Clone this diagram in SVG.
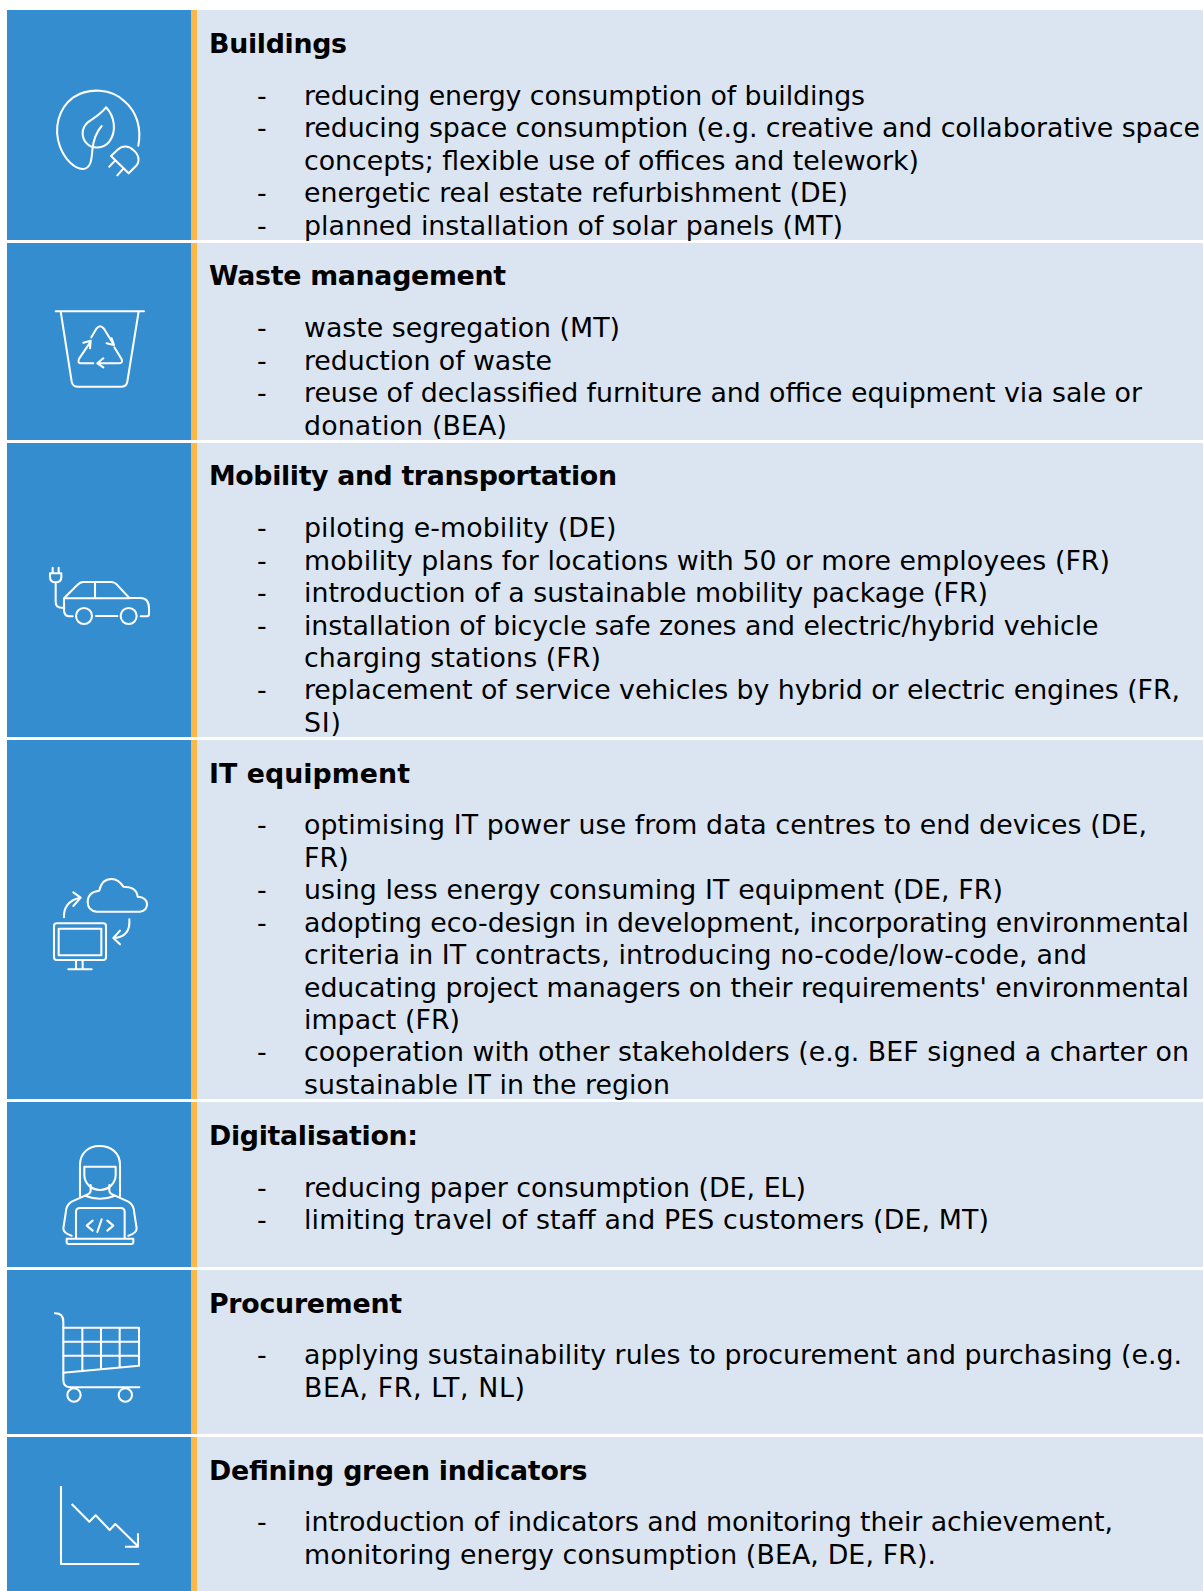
<svg xmlns="http://www.w3.org/2000/svg" width="1203" height="1591" viewBox="0 0 1203 1591">
<style>
.b{fill:#348dcf}.o{fill:#fdb947}.p{fill:#dbe5f1}
text{font-family:"DejaVu Sans","Liberation Sans",sans-serif;fill:#000;font-size:26.8px}
.h{font-weight:700}
.i{fill:none;stroke:#fff;stroke-width:6.2;stroke-linecap:round;stroke-linejoin:round}
</style>
<rect width="1203" height="1591" fill="#fff"/>
<g id="row-buildings">
<rect class="b" x="7" y="10" width="184" height="230"/><rect class="o" x="191" y="10" width="6" height="230"/><rect class="p" x="197" y="10" width="1006" height="230"/>
<g class="i" transform="scale(.33333)">
<path d="M415 437C425 385 410 335 375 305C335 265 265 262 220 292C175 325 160 385 180 440C195 480 225 507 248 507C272 507 275 480 277 450C280 420 290 395 305 378"/>
<path d="M318 322C300 345 275 358 262 368C245 385 243 410 258 428C275 448 310 448 328 425C350 395 345 350 318 322Z"/>
<path d="M333 468L352 450C365 437 385 435 400 450C418 465 420 485 408 498L386 520ZM345 482L328 500M370 506L352 526"/>
</g>
<text class="h" x="209" y="53" textLength="138">Buildings</text>
<text x="257" y="105">-</text><text x="304" y="105" textLength="561">reducing energy consumption of buildings</text>
<text x="257" y="137">-</text><text x="304" y="137" textLength="896">reducing space consumption (e.g. creative and collaborative space</text>
<text x="304" y="169.500" textLength="615">concepts; flexible use of offices and telework)</text>
<text x="257" y="202">-</text><text x="304" y="202" textLength="544">energetic real estate refurbishment (DE)</text>
<text x="257" y="234.500">-</text><text x="304" y="234.500" textLength="539">planned installation of solar panels (MT)</text>
</g>
<g id="row-waste">
<rect class="b" x="7" y="243" width="184" height="197"/><rect class="o" x="191" y="243" width="6" height="197"/><rect class="p" x="197" y="243" width="1006" height="197"/>
<g class="i" transform="scale(.33333)">
<path d="M167 934H432M182 934L215 1145Q218 1160 232 1160H365Q380 1160 382 1145L416 934"/>
<path d="M274 1012L290 985Q300 972 311 985L342 1035M335 1015L342 1035L320 1030"/>
<path d="M272 1025L238 1075Q230 1090 245 1090H280M250 1028L272 1022L270 1045"/>
<path d="M343 1042L365 1078Q370 1090 355 1090H292M310 1075L292 1090L310 1102"/>
</g>
<text class="h" x="209" y="285" textLength="297">Waste management</text>
<text x="257" y="337">-</text><text x="304" y="337" textLength="316">waste segregation (MT)</text>
<text x="257" y="369.500">-</text><text x="304" y="369.500" textLength="248">reduction of waste</text>
<text x="257" y="402">-</text><text x="304" y="402" textLength="838">reuse of declassified furniture and office equipment via sale or</text>
<text x="304" y="435" textLength="203">donation (BEA)</text>
</g>
<g id="row-mobility">
<rect class="b" x="7" y="443" width="184" height="294"/><rect class="o" x="191" y="443" width="6" height="294"/><rect class="p" x="197" y="443" width="1006" height="294"/>
<g class="i" transform="translate(0,540) scale(.33333)">
<path d="M158 83V100M176 83V100M150 100H184V110Q184 127 167 127Q150 127 150 110ZM167 127V185Q167 203 185 203H193"/>
<path d="M218 229H210Q192 229 192 210V175L232 135Q240 126 250 126H335Q342 126 350 133L388 174H420Q447 174 447 205V222Q447 229 440 229H422M192 175H388M285 126V175M288 228H352"/>
<circle cx="252" cy="228" r="24"/><circle cx="386" cy="228" r="24"/>
</g>
<text class="h" x="209" y="485" textLength="408">Mobility and transportation</text>
<text x="257" y="537">-</text><text x="304" y="537" textLength="312.500">piloting e-mobility (DE)</text>
<text x="257" y="570">-</text><text x="304" y="570" textLength="806">mobility plans for locations with 50 or more employees (FR)</text>
<text x="257" y="602">-</text><text x="304" y="602" textLength="684">introduction of a sustainable mobility package (FR)</text>
<text x="257" y="634.500">-</text><text x="304" y="634.500" textLength="794.500">installation of bicycle safe zones and electric/hybrid vehicle</text>
<text x="304" y="667" textLength="297">charging stations (FR)</text>
<text x="257" y="699">-</text><text x="304" y="699" textLength="876">replacement of service vehicles by hybrid or electric engines (FR,</text>
<text x="304" y="732" textLength="37">SI)</text>
</g>
<g id="row-it">
<rect class="b" x="7" y="740" width="184" height="359"/><rect class="o" x="191" y="740" width="6" height="359"/><rect class="p" x="197" y="740" width="1006" height="359"/>
<g class="i" transform="translate(0,540) scale(.33333)">
<path d="M290 1115H420Q441 1112 441 1092Q440 1072 413 1070Q410 1040 370 1040Q355 1017 335 1017Q305 1017 298 1052Q264 1055 263 1085Q263 1112 290 1115Z"/>
<path d="M192 1132Q190 1085 240 1073M220 1057L242 1073L220 1098M388 1138Q392 1190 342 1194M360 1172L340 1194L360 1213"/>
<rect x="162" y="1150" width="156" height="110" rx="8"/><rect x="176" y="1166" width="128" height="80"/>
<path d="M228 1260V1288M248 1260V1288M205 1288H275"/>
</g>
<text class="h" x="209" y="783" textLength="201">IT equipment</text>
<text x="257" y="834">-</text><text x="304" y="834" textLength="843">optimising IT power use from data centres to end devices (DE,</text>
<text x="304" y="867" textLength="44.600">FR)</text>
<text x="257" y="899">-</text><text x="304" y="899" textLength="699">using less energy consuming IT equipment (DE, FR)</text>
<text x="257" y="932">-</text><text x="304" y="932" textLength="885">adopting eco-design in development, incorporating environmental</text>
<text x="304" y="964" textLength="783">criteria in IT contracts, introducing no-code/low-code, and</text>
<text x="304" y="997" textLength="885">educating project managers on their requirements' environmental</text>
<text x="304" y="1029" textLength="156">impact (FR)</text>
<text x="257" y="1061">-</text><text x="304" y="1061" textLength="885">cooperation with other stakeholders (e.g. BEF signed a charter on</text>
<text x="304" y="1094" textLength="366">sustainable IT in the region</text>
</g>
<g id="row-digitalisation">
<rect class="b" x="7" y="1102" width="184" height="165"/><rect class="o" x="191" y="1102" width="6" height="165"/><rect class="p" x="197" y="1102" width="1006" height="165"/>
<g class="i" transform="translate(0,1120) scale(.33333)">
<path d="M240 228V135C240 100 265 78 298 78C335 78 360 100 360 135V228"/>
<path d="M253 140H347V165C347 190 325 210 300 210C275 210 253 190 253 165Z"/>
<path d="M272 195V212Q272 220 255 227Q300 245 345 227Q328 220 328 212V195"/>
<path d="M255 227L215 245Q198 255 197 280L190 325Q190 340 215 347M345 227L385 245Q402 255 403 280L410 325Q410 340 385 347"/>
<path d="M228 356V275Q228 264 240 264H362Q374 264 374 275V356M200 356H400V366Q400 372 394 372H206Q200 372 200 366Z"/>
<path d="M278 302L260 317L278 332M305 298L292 336M322 302L340 317L322 332"/>
</g>
<text class="h" x="209" y="1145" textLength="209">Digitalisation:</text>
<text x="257" y="1197">-</text><text x="304" y="1197" textLength="502">reducing paper consumption (DE, EL)</text>
<text x="257" y="1229">-</text><text x="304" y="1229" textLength="685">limiting travel of staff and PES customers (DE, MT)</text>
</g>
<g id="row-procurement">
<rect class="b" x="7" y="1270" width="184" height="164"/><rect class="o" x="191" y="1270" width="6" height="164"/><rect class="p" x="197" y="1270" width="1006" height="164"/>
<g class="i" transform="translate(0,1120) scale(.33333)">
<path d="M165 580Q190 580 190 605V780Q190 802 212 802H418"/>
<path d="M190 623H417V737L190 758M190 665H417M190 707H417M247 623V752M303 623V747M359 623V742"/>
<circle cx="222" cy="825" r="20"/><circle cx="376" cy="825" r="20"/>
</g>
<text class="h" x="209" y="1313" textLength="193">Procurement</text>
<text x="257" y="1364">-</text><text x="304" y="1364" textLength="878">applying sustainability rules to procurement and purchasing (e.g.</text>
<text x="304" y="1396.500" textLength="221">BEA, FR, LT, NL)</text>
</g>
<g id="row-indicators">
<rect class="b" x="7" y="1437" width="184" height="154"/><rect class="o" x="191" y="1437" width="6" height="154"/><rect class="p" x="197" y="1437" width="1006" height="154"/>
<g class="i" transform="translate(0,1120) scale(.33333)" style="stroke-linecap:butt">
<path d="M183 1098V1332H418"/>
<path d="M215 1152L268 1205L287 1186L329 1230L346 1212L413 1278M414 1240V1280H375"/>
</g>
<text class="h" x="209" y="1480" textLength="378.500">Defining green indicators</text>
<text x="257" y="1531">-</text><text x="304" y="1531" textLength="809">introduction of indicators and monitoring their achievement,</text>
<text x="304" y="1564" textLength="632">monitoring energy consumption (BEA, DE, FR).</text>
</g>
</svg>
